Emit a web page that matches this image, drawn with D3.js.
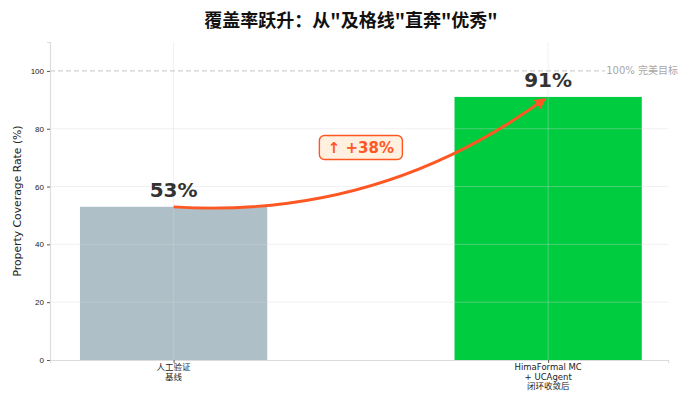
<!DOCTYPE html>
<html>
<head>
<meta charset="utf-8">
<script src="https://cdn.jsdelivr.net/npm/d3@7"></script>
<style>
  body { margin: 0; background: #fff; }
  svg { display: block; font-family: "DejaVu Sans", "Noto Sans CJK SC", sans-serif; }
</style>
</head>
<body>
<svg id="chart" width="700" height="406"></svg>
<script>
// Coverage jump chart - baseline vs closed loop

// Data
const categories = [['人工验证', '基线'], ['HimaFormal MC', '+ UCAgent', '闭环收敛后']];
const coverage = [53, 91];
const barColors = ['#AEBFC7', '#00CC40'];
const yTicks = [0, 20, 40, 60, 80, 100];
const targetValue = 100;
const targetLabel = '100% 完美目标';
const gainLabel = '↑ +38%';
const title = '覆盖率跃升：从"及格线"直奔"优秀"';
const yLabel = 'Property Coverage Rate (%)';

const svg = d3.select('#chart');
const margin = { left: 50, right: 32, top: 42, bottom: 46 };
const width = 700, height = 406;

// Scales
const x = d3.scaleLinear()
  .domain([-0.33, 1.32])
  .range([margin.left, width - margin.right]);
const y = d3.scaleLinear()
  .domain([0, 110])
  .range([height - margin.bottom, margin.top]);
const barW = x(0.5) - x(0);

// Title
svg.append('text')
  .attr('x', 351)
  .attr('y', 27)
  .attr('text-anchor', 'middle')
  .attr('font-family', '"Noto Sans CJK SC", sans-serif')
  .attr('font-weight', 'bold')
  .attr('font-size', 18)
  .attr('fill', '#111')
  .text(title);

// Bars
svg.append('g')
  .selectAll('rect')
  .data(coverage)
  .enter()
  .append('rect')
  .attr('x', (d, i) => x(i) - barW / 2)
  .attr('y', d => y(d))
  .attr('width', barW)
  .attr('height', d => y(0) - y(d))
  .attr('fill', (d, i) => barColors[i]);

// Grid on top of bars (semi transparent)
const grid = svg.append('g');
grid.selectAll('line.h')
  .data(yTicks.filter(t => t > 0 && t < targetValue))
  .enter()
  .append('line')
  .attr('x1', x.range()[0])
  .attr('x2', x.range()[1])
  .attr('y1', d => y(d))
  .attr('y2', d => y(d))
  .attr('stroke', '#d8d8d8')
  .attr('stroke-opacity', 0.35)
  .attr('stroke-width', 1);
grid.selectAll('line.v')
  .data(coverage)
  .enter()
  .append('line')
  .attr('x1', (d, i) => x(i))
  .attr('x2', (d, i) => x(i))
  .attr('y1', y.range()[1])
  .attr('y2', y.range()[0])
  .attr('stroke', '#d8d8d8')
  .attr('stroke-opacity', 0.35)
  .attr('stroke-width', 1);

// Target line
svg.append('line')
  .attr('x1', x.range()[0])
  .attr('x2', x.range()[1])
  .attr('y1', y(targetValue))
  .attr('y2', y(targetValue))
  .attr('stroke', '#cfcfcf')
  .attr('stroke-width', 1.2)
  .attr('stroke-dasharray', '5,3');

const targetText = svg.append('text')
  .attr('x', x(1.155))
  .attr('y', y(targetValue) + 3.5)
  .attr('font-size', 10)
  .attr('fill', '#a8a8a8')
  .text(targetLabel);
const tb = targetText.node().getBBox();
svg.insert('rect', 'text:last-of-type')
  .attr('x', tb.x - 1)
  .attr('y', y(targetValue) - 2)
  .attr('width', tb.width + 2)
  .attr('height', 4)
  .attr('fill', '#fff');
targetText.raise();

// Axes
const yAxis = svg.append('g')
  .attr('transform', `translate(${margin.left},0)`)
  .call(d3.axisLeft(y).tickValues(yTicks).tickSize(3).tickPadding(3));
yAxis.select('.domain').attr('stroke', '#dcdcdc').attr('stroke-width', 1.2);
yAxis.selectAll('.tick line').attr('stroke', '#555');
yAxis.selectAll('.tick text').attr('font-size', 8).attr('fill', '#222');

const xAxis = svg.append('g')
  .attr('transform', `translate(0,${y(0)})`)
  .call(d3.axisBottom(x).tickValues([0, 1]).tickSize(3).tickFormat(''));
xAxis.select('.domain').attr('stroke', '#dcdcdc').attr('stroke-width', 1.2);
xAxis.selectAll('.tick line').attr('stroke', '#555');

// Multi-line category labels
const catLabels = svg.append('g')
  .selectAll('text')
  .data(categories)
  .enter()
  .append('text')
  .attr('text-anchor', 'middle')
  .attr('font-size', 8.5)
  .attr('fill', '#222')
  .attr('transform', (d, i) => `translate(${x(i)},${y(0) + 10})`);
catLabels.selectAll('tspan')
  .data(d => d)
  .enter()
  .append('tspan')
  .attr('x', 0)
  .attr('dy', (d, i) => i === 0 ? 0 : 9.5)
  .text(d => d);

// Y label
svg.append('text')
  .attr('transform', `translate(21,${(y(0) + y(110)) / 2}) rotate(-90)`)
  .attr('text-anchor', 'middle')
  .attr('font-size', 10.8)
  .attr('fill', '#222')
  .text(yLabel);

// Value labels
svg.append('g')
  .selectAll('text')
  .data(coverage)
  .enter()
  .append('text')
  .attr('x', (d, i) => x(i))
  .attr('y', d => y(d) - 10)
  .attr('text-anchor', 'middle')
  .attr('font-weight', 'bold')
  .attr('font-size', 20)
  .attr('fill', '#333')
  .text(d => d + '%');

// Curved arrow (arc3-style quadratic curve)
const arrowColor = '#FF5722';
svg.append('defs').append('marker')
  .attr('id', 'head')
  .attr('viewBox', '0 0 10 10')
  .attr('refX', 8)
  .attr('refY', 5)
  .attr('markerWidth', 4)
  .attr('markerHeight', 4)
  .attr('orient', 'auto')
  .append('path')
  .attr('d', 'M0,0 L10,5 L0,10 z')
  .attr('fill', arrowColor);

const p0 = [x(0), y(coverage[0])];
const p2 = [x(0.99), y(coverage[1] - 0.8)];
const rad = 0.18;
const mid = [(p0[0] + p2[0]) / 2, (p0[1] + p2[1]) / 2];
const dx = p2[0] - p0[0], dy = p2[1] - p0[1];
const ctrl = [mid[0] - rad * dy, mid[1] + rad * dx];
const curve = d3.path();
curve.moveTo(p0[0], p0[1]);
curve.quadraticCurveTo(ctrl[0], ctrl[1], p2[0], p2[1]);
svg.append('path')
  .attr('d', curve.toString())
  .attr('fill', 'none')
  .attr('stroke', arrowColor)
  .attr('stroke-width', 2.8)
  .attr('marker-end', 'url(#head)');

// Gain badge
const badge = svg.append('g')
  .attr('transform', `translate(${x(0.5)},${y(73.5)})`);
badge.append('rect')
  .attr('x', -41.5)
  .attr('y', -12)
  .attr('width', 83)
  .attr('height', 24)
  .attr('rx', 5)
  .attr('fill', '#FFF0E0')
  .attr('stroke', arrowColor)
  .attr('stroke-width', 1.4);
badge.append('text')
  .attr('y', 5.3)
  .attr('text-anchor', 'middle')
  .attr('font-weight', 'bold')
  .attr('font-size', 15)
  .attr('fill', arrowColor)
  .text(gainLabel);
</script>
</body>
</html>
